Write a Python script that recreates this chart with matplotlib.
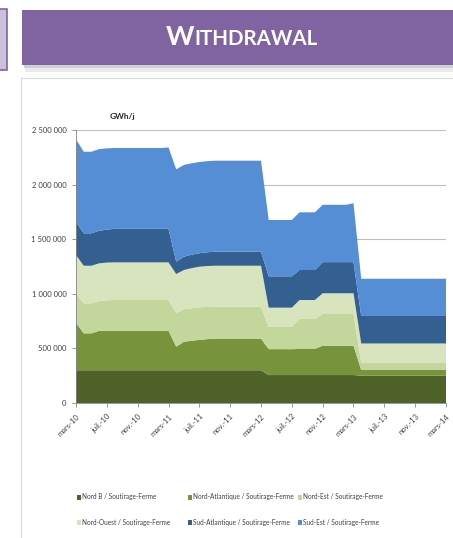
import numpy as np
import matplotlib
matplotlib.use("Agg")
import matplotlib.pyplot as plt
from matplotlib.patches import Rectangle

# ---------------- data ----------------
months = list(range(49))  # mars-10 .. mars-14, monthly
tick_positions = [0, 4, 8, 12, 16, 20, 24, 28, 32, 36, 40, 44, 48]
tick_labels = ["mars-10", "juil.-10", "nov.-10", "mars-11", "juil.-11", "nov.-11",
               "mars-12", "juil.-12", "nov.-12", "mars-13", "juil.-13", "nov.-13", "mars-14"]

series_names = ["Nord B / Soutirage-Ferme", "Nord-Atlantique / Soutirage-Ferme",
                "Nord-Est / Soutirage-Ferme", "Nord-Ouest / Soutirage-Ferme",
                "Sud-Atlantique / Soutirage-Ferme", "Sud-Est / Soutirage-Ferme"]

nord_b = [300000, 300000, 300000, 300000, 300000, 300000, 300000, 300000, 300000, 300000,
          300000, 300000, 300000, 300000, 300000, 300000, 300000, 300000, 300000, 300000,
          300000, 300000, 300000, 300000, 300000, 256000, 256000, 256000, 256000, 256000,
          256000, 256000, 256000, 256000, 256000, 256000, 256000, 250000, 250000, 250000,
          250000, 250000, 250000, 250000, 250000, 250000, 250000, 250000, 250000]
nord_atlantique = [435000, 338000, 338000, 360000, 362000, 362000, 362000, 362000, 362000, 362000,
                   362000, 362000, 362000, 216000, 261000, 270000, 278000, 285000, 290000, 290000,
                   290000, 290000, 290000, 290000, 290000, 237000, 237000, 237000, 237000, 239000,
                   239000, 239000, 269000, 269000, 269000, 269000, 269000, 52000, 52000, 52000,
                   52000, 52000, 52000, 52000, 52000, 52000, 52000, 52000, 52000]
nord_est = [270000, 275000, 275000, 274000, 279000, 281000, 281000, 281000, 281000, 281000,
            281000, 281000, 281000, 305000, 297000, 298000, 298000, 295000, 292000, 292000,
            292000, 292000, 292000, 292000, 292000, 204000, 204000, 204000, 204000, 275000,
            275000, 275000, 290000, 290000, 290000, 290000, 290000, 70000, 70000, 70000,
            70000, 70000, 70000, 70000, 70000, 70000, 70000, 70000, 70000]
nord_ouest = [350000, 344000, 344000, 345000, 345000, 345000, 345000, 345000, 345000, 345000,
              345000, 345000, 345000, 360000, 360000, 367000, 372000, 374000, 375000, 375000,
              375000, 375000, 375000, 375000, 375000, 176000, 176000, 176000, 176000, 173000,
              173000, 173000, 190000, 190000, 190000, 190000, 190000, 173000, 173000, 173000,
              173000, 173000, 173000, 173000, 173000, 173000, 173000, 173000, 173000]
sud_atlantique = [305000, 297000, 297000, 298000, 302000, 307000, 307000, 307000, 307000, 307000,
                  307000, 307000, 307000, 113000, 122000, 123000, 123000, 126000, 129000, 129000,
                  129000, 129000, 129000, 129000, 129000, 287000, 287000, 287000, 287000, 275000,
                  275000, 275000, 285000, 285000, 285000, 285000, 285000, 252000, 252000, 252000,
                  252000, 252000, 252000, 252000, 252000, 252000, 252000, 252000, 252000]
sud_est = [755000, 747000, 747000, 748000, 744000, 740000, 740000, 740000, 740000, 740000,
           740000, 740000, 745000, 846000, 840000, 837000, 836000, 834000, 833000, 833000,
           833000, 833000, 833000, 833000, 833000, 516000, 516000, 516000, 516000, 528000,
           528000, 528000, 525000, 525000, 525000, 525000, 539000, 341000, 341000, 341000,
           341000, 341000, 341000, 341000, 341000, 341000, 341000, 341000, 341000]

y_ticks = [0, 500000, 1000000, 1500000, 2000000, 2500000]

colors = ["#4F6228", "#77933C", "#C3D69B", "#D7E4BD", "#345F91", "#558ED5"]

# ---------------- figure ----------------
W, H = 453, 538
fig = plt.figure(figsize=(W / 100, H / 100), dpi=100)
fig.patch.set_facecolor("white")

def rect(x0, y0, x1, y1, **kw):
    r = Rectangle((x0 / W, 1 - y1 / H), (x1 - x0) / W, (y1 - y0) / H,
                  transform=fig.transFigure, **kw)
    fig.add_artist(r)
    return r

# left partial box
rect(-5, 9, 7, 70, facecolor="#CCC1DA", edgecolor="#8064A2", linewidth=1.2)
# banner shadow
rect(25, 15, 460, 72, facecolor="#EBEBEB", edgecolor="none")
rect(24, 12, 460, 68, facecolor="#D0D0D0", edgecolor="none")
# banner
rect(22, 10, 460, 65, facecolor="#8064A2", edgecolor="none")
# chart frame
rect(21, 78, 470, 560, facecolor="none", edgecolor="#D9D9D9", linewidth=0.8)

# title in small caps
title_font = "Lato"
t1 = fig.text(166 / W, 1 - 45 / H, "W", color="white", fontsize=19.5,
              fontweight="bold", family=title_font, ha="left", va="baseline")
fig.canvas.draw()
r = fig.canvas.get_renderer()
bb = t1.get_window_extent(renderer=r)
fig.text(bb.x1 / W, 1 - 45 / H, "ITHDRAWAL", color="white", fontsize=14.8,
         fontweight="bold", family=title_font, ha="left", va="baseline")

# axes
ax = fig.add_axes([76 / W, 1 - 403 / H, 370 / W, 273 / H])
ax.stackplot(months, nord_b, nord_atlantique, nord_est, nord_ouest,
             sud_atlantique, sud_est, colors=colors, labels=series_names,
             linewidth=0, zorder=2)
ax.set_xlim(0, 48)
ax.set_ylim(0, 2500000)
ax.set_yticks(y_ticks)
ax.set_yticklabels([f"{v:,}".replace(",", " ") for v in y_ticks],
                   fontsize=5.5, color="#404040", family="Lato")
ax.set_xticks(tick_positions)
ax.set_xticklabels(tick_labels, rotation=45, ha="right", va="top",
                   rotation_mode="anchor", fontsize=5.5, color="#404040",
                   family="Lato")
ax.tick_params(axis="y", length=3, width=0.6, color="#868686", pad=4)
ax.tick_params(axis="x", length=3, width=0.6, color="#868686", pad=4)
ax.grid(axis="y", color="#BFBFBF", linewidth=0.8, zorder=0)
ax.set_axisbelow(True)
for s in ["top", "right"]:
    ax.spines[s].set_visible(False)
for s in ["left", "bottom"]:
    ax.spines[s].set_color("#868686")
    ax.spines[s].set_linewidth(0.6)
ax.spines["bottom"].set_zorder(3)

fig.text(110 / W, 1 - 117 / H, "GWh/j", fontsize=6, fontweight="bold",
         color="#262626", family="Lato", ha="left", va="center")

# legend (row-major, fixed-width columns as in the reference)
col_x = [77, 188, 298]
row_y = [497, 522]
for i, (name, c) in enumerate(zip(series_names, colors)):
    xx = col_x[i % 3]
    yy = row_y[i // 3]
    rect(xx, yy - 2.5, xx + 4, yy + 2.5, facecolor=c, edgecolor="none")
    fig.text((xx + 5) / W, 1 - yy / H, name, fontsize=4.7, color="#404040",
             family="Lato", ha="left", va="center")

fig.savefig("out.png", dpi=100)
